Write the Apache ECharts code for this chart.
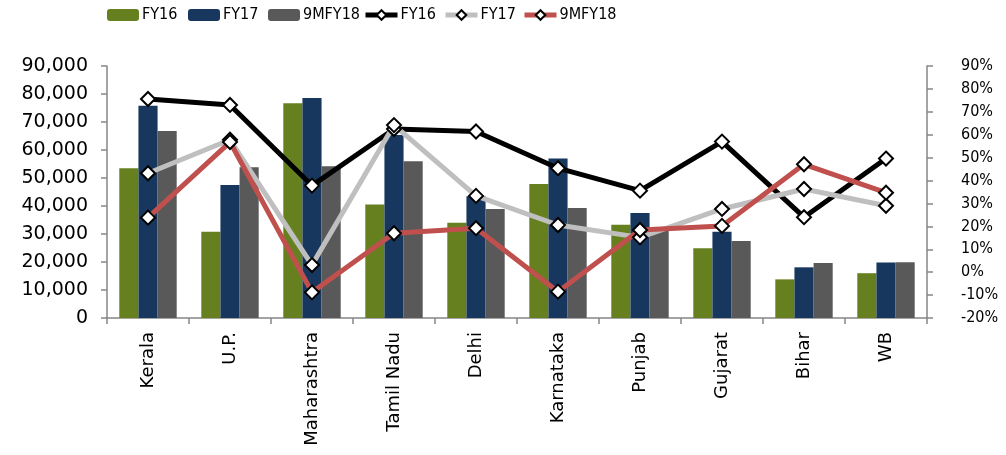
<!DOCTYPE html>
<html>
<head>
<meta charset="utf-8">
<script src="https://cdn.jsdelivr.net/npm/echarts@6/dist/echarts.min.js"></script>
<style>
html,body{margin:0;padding:0;background:#fff;}
#main{width:1006px;height:455px;}
</style>
</head>
<body>
<div id="main"></div>
<script>
var categories = ['Kerala','U.P.','Maharashtra','Tamil Nadu','Delhi','Karnataka','Punjab','Gujarat','Bihar','WB'];
var volFY16 = [53500, 30800, 76700, 40500, 34000, 47900, 33300, 24900, 13800, 16000];
var volFY17 = [75800, 47500, 78600, 65400, 43500, 57000, 37500, 30800, 18100, 19800];
var vol9MFY18 = [66800, 53800, 54200, 56000, 38900, 39300, 31500, 27500, 19600, 19900];
var grFY16 = [75.6, 73.0, 37.8, 62.5, 61.4, 45.4, 35.6, 57.0, 24.0, 49.6];
var grFY17 = [43.2, 57.8, 3.1, 64.2, 33.3, 20.6, 15.2, 27.6, 36.3, 29.0];
var gr9MFY18 = [23.8, 56.8, -8.8, 17.0, 19.2, -8.5, 18.4, 20.2, 47.1, 34.7];
var leftTicks = {min: 0, max: 90000, interval: 10000};
var rightTicks = {min: -20, max: 90, interval: 10};

var FONT = 'DejaVu Sans';
var LEGFONT = 'DejaVu Sans Condensed';
var axisColor = '#868686';

var chart = echarts.init(document.getElementById('main'), null, {renderer: 'canvas'});

function legendAt(left, name) {
  return {
    left: left, top: 7, padding: 0, itemWidth: 32, itemHeight: 12, itemGap: 0,
    data: [name],
    selectedMode: false,
    lineStyle: {width: 5},
    formatter: function (n) { return n.split(' ')[0]; },
    textStyle: {fontFamily: LEGFONT, fontSize: 16, color: '#000', padding: [0,0,0,-2]}
  };
}

function lineSeries(name, data, color) {
  return {
    name: name, type: 'line', yAxisIndex: 1, data: data,
    symbol: 'diamond', symbolSize: 14,
    itemStyle: {color: '#fff', borderColor: '#000', borderWidth: 2},
    lineStyle: {color: color, width: 5},
    z: 5
  };
}

var option = {
  animation: false,
  textStyle: {fontFamily: FONT},
  legend: [
    legendAt(107, 'FY16'),
    legendAt(188, 'FY17'),
    legendAt(268, '9MFY18'),
    legendAt(363, 'FY16 growth'),
    legendAt(443, 'FY17 growth'),
    legendAt(522, '9MFY18 growth')
  ],
  grid: {left: 107, right: 79, top: 66, bottom: 137, containLabel: false, outerBoundsMode: 'none'},
  xAxis: {
    type: 'category', data: categories,
    axisLine: {lineStyle: {color: axisColor, width: 1.5}},
    axisTick: {show: true, alignWithLabel: false, length: 6, lineStyle: {color: axisColor, width: 1.5}},
    axisLabel: {rotate: 90, color: '#000', fontSize: 18, fontFamily: FONT, margin: 14}
  },
  yAxis: [
    {
      type: 'value', min: leftTicks.min, max: leftTicks.max, interval: leftTicks.interval,
      splitLine: {show: false},
      axisLine: {show: true, lineStyle: {color: axisColor, width: 1.5}},
      axisTick: {show: true, length: 6, lineStyle: {color: axisColor, width: 1.5}},
      axisLabel: {color: '#000', fontSize: 19, fontFamily: FONT, margin: 19,
        formatter: function (v) { return v.toLocaleString('en-US'); }}
    },
    {
      type: 'value', min: rightTicks.min, max: rightTicks.max, interval: rightTicks.interval,
      position: 'right',
      splitLine: {show: false},
      axisLine: {show: true, lineStyle: {color: axisColor, width: 1.5}},
      axisTick: {show: true, length: 6, lineStyle: {color: axisColor, width: 1.5}},
      axisLabel: {color: '#000', fontSize: 16, fontFamily: LEGFONT, margin: 34,
        formatter: '{value}%'}
    }
  ],
  series: [
    {name: 'FY16', type: 'bar', data: volFY16, barGap: '0%', barCategoryGap: '30%',
      itemStyle: {color: '#66801F'}},
    {name: 'FY17', type: 'bar', data: volFY17, barGap: '0%', barCategoryGap: '30%',
      itemStyle: {color: '#17375E'}},
    {name: '9MFY18', type: 'bar', data: vol9MFY18, barGap: '0%', barCategoryGap: '30%',
      itemStyle: {color: '#595959'}},
    lineSeries('FY16 growth', grFY16, '#000000'),
    lineSeries('FY17 growth', grFY17, '#BFBFBF'),
    lineSeries('9MFY18 growth', gr9MFY18, '#C0504D')
  ]
};
chart.setOption(option);
</script>
</body>
</html>
